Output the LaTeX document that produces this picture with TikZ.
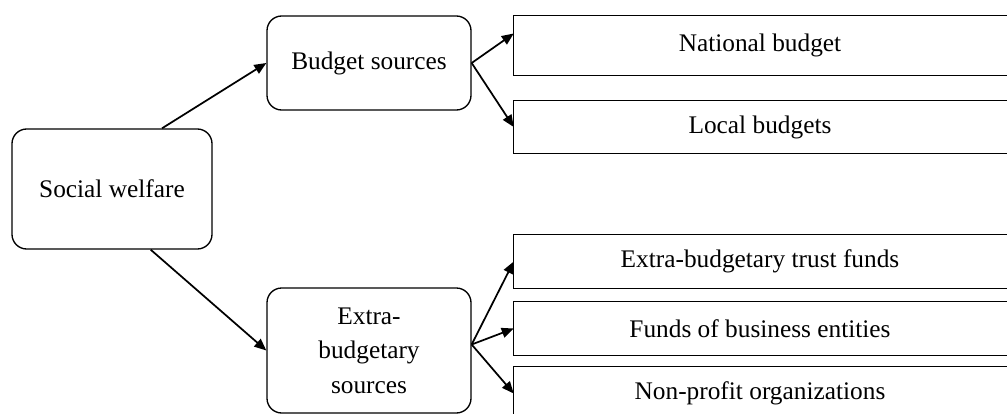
\documentclass[tikz,border=0pt]{standalone}
\usepackage{fontspec}
\setmainfont{Liberation Serif}
\usetikzlibrary{arrows.meta}
\newcommand{\itembox}[4] % name, y centre in px, height in pt, text
{
	% frame runs on past the right edge of the page
	\node[item, minimum height=#3] (#1) at (760,#2) {#4};
	\draw[frame] (#1.north west) rectangle ([xshift=100pt]#1.south east);
}

\begin{document}
\begin{tikzpicture}[x=0.75pt, y=-0.75pt,
	frame/.style={line width=1pt},
	rbox/.style={draw, frame, rounded corners=11pt, align=center, inner sep=2pt},
	item/.style={minimum width=369pt, inner sep=0pt},
	link/.style={line width=1.3pt, -{Triangle[length=9pt,width=7.5pt]}},
	every node/.style={font=\fontsize{19}{26}\selectfont}]
	% page is 1007 x 414 px, y runs downwards
	\useasboundingbox (0,0) rectangle (1007,414);
	\clip (0,0) rectangle (1007,414);
	
	\node[rbox, minimum width=150pt, minimum height=90pt] (sw) at (112,189) {Social welfare};
	\node[rbox, minimum width=153pt, minimum height=70.5pt] (bud) at (369,63) {Budget sources};
	\node[rbox, minimum width=153pt, minimum height=93.75pt] (ext) at (369,350.5) {Extra-\\budgetary\\sources};
	
	\itembox{nat}{45.5}{44.25pt}{National budget};
	\itembox{loc}{127}{39pt}{Local budgets};
	\itembox{trust}{261.5}{39.75pt}{Extra-budgetary trust funds};
	\itembox{firm}{328.5}{39.75pt}{Funds of business entities};
	\itembox{npo}{393.5}{39.75pt}{Non-profit organizations};
	
	\draw[link] ([xshift=37.5pt]sw.north) -- (bud.west);
	\draw[link] ([xshift=29pt]sw.south) -- (ext.west);
	
	\draw[link] (bud.east) -- ([yshift=9pt]nat.west);
	\draw[link] (bud.east) -- (loc.west);
	
	\foreach \n in {trust, firm, npo}
		\draw[link] ([yshift=4.5pt]ext.east) -- (\n.west);
\end{tikzpicture}
\end{document}
